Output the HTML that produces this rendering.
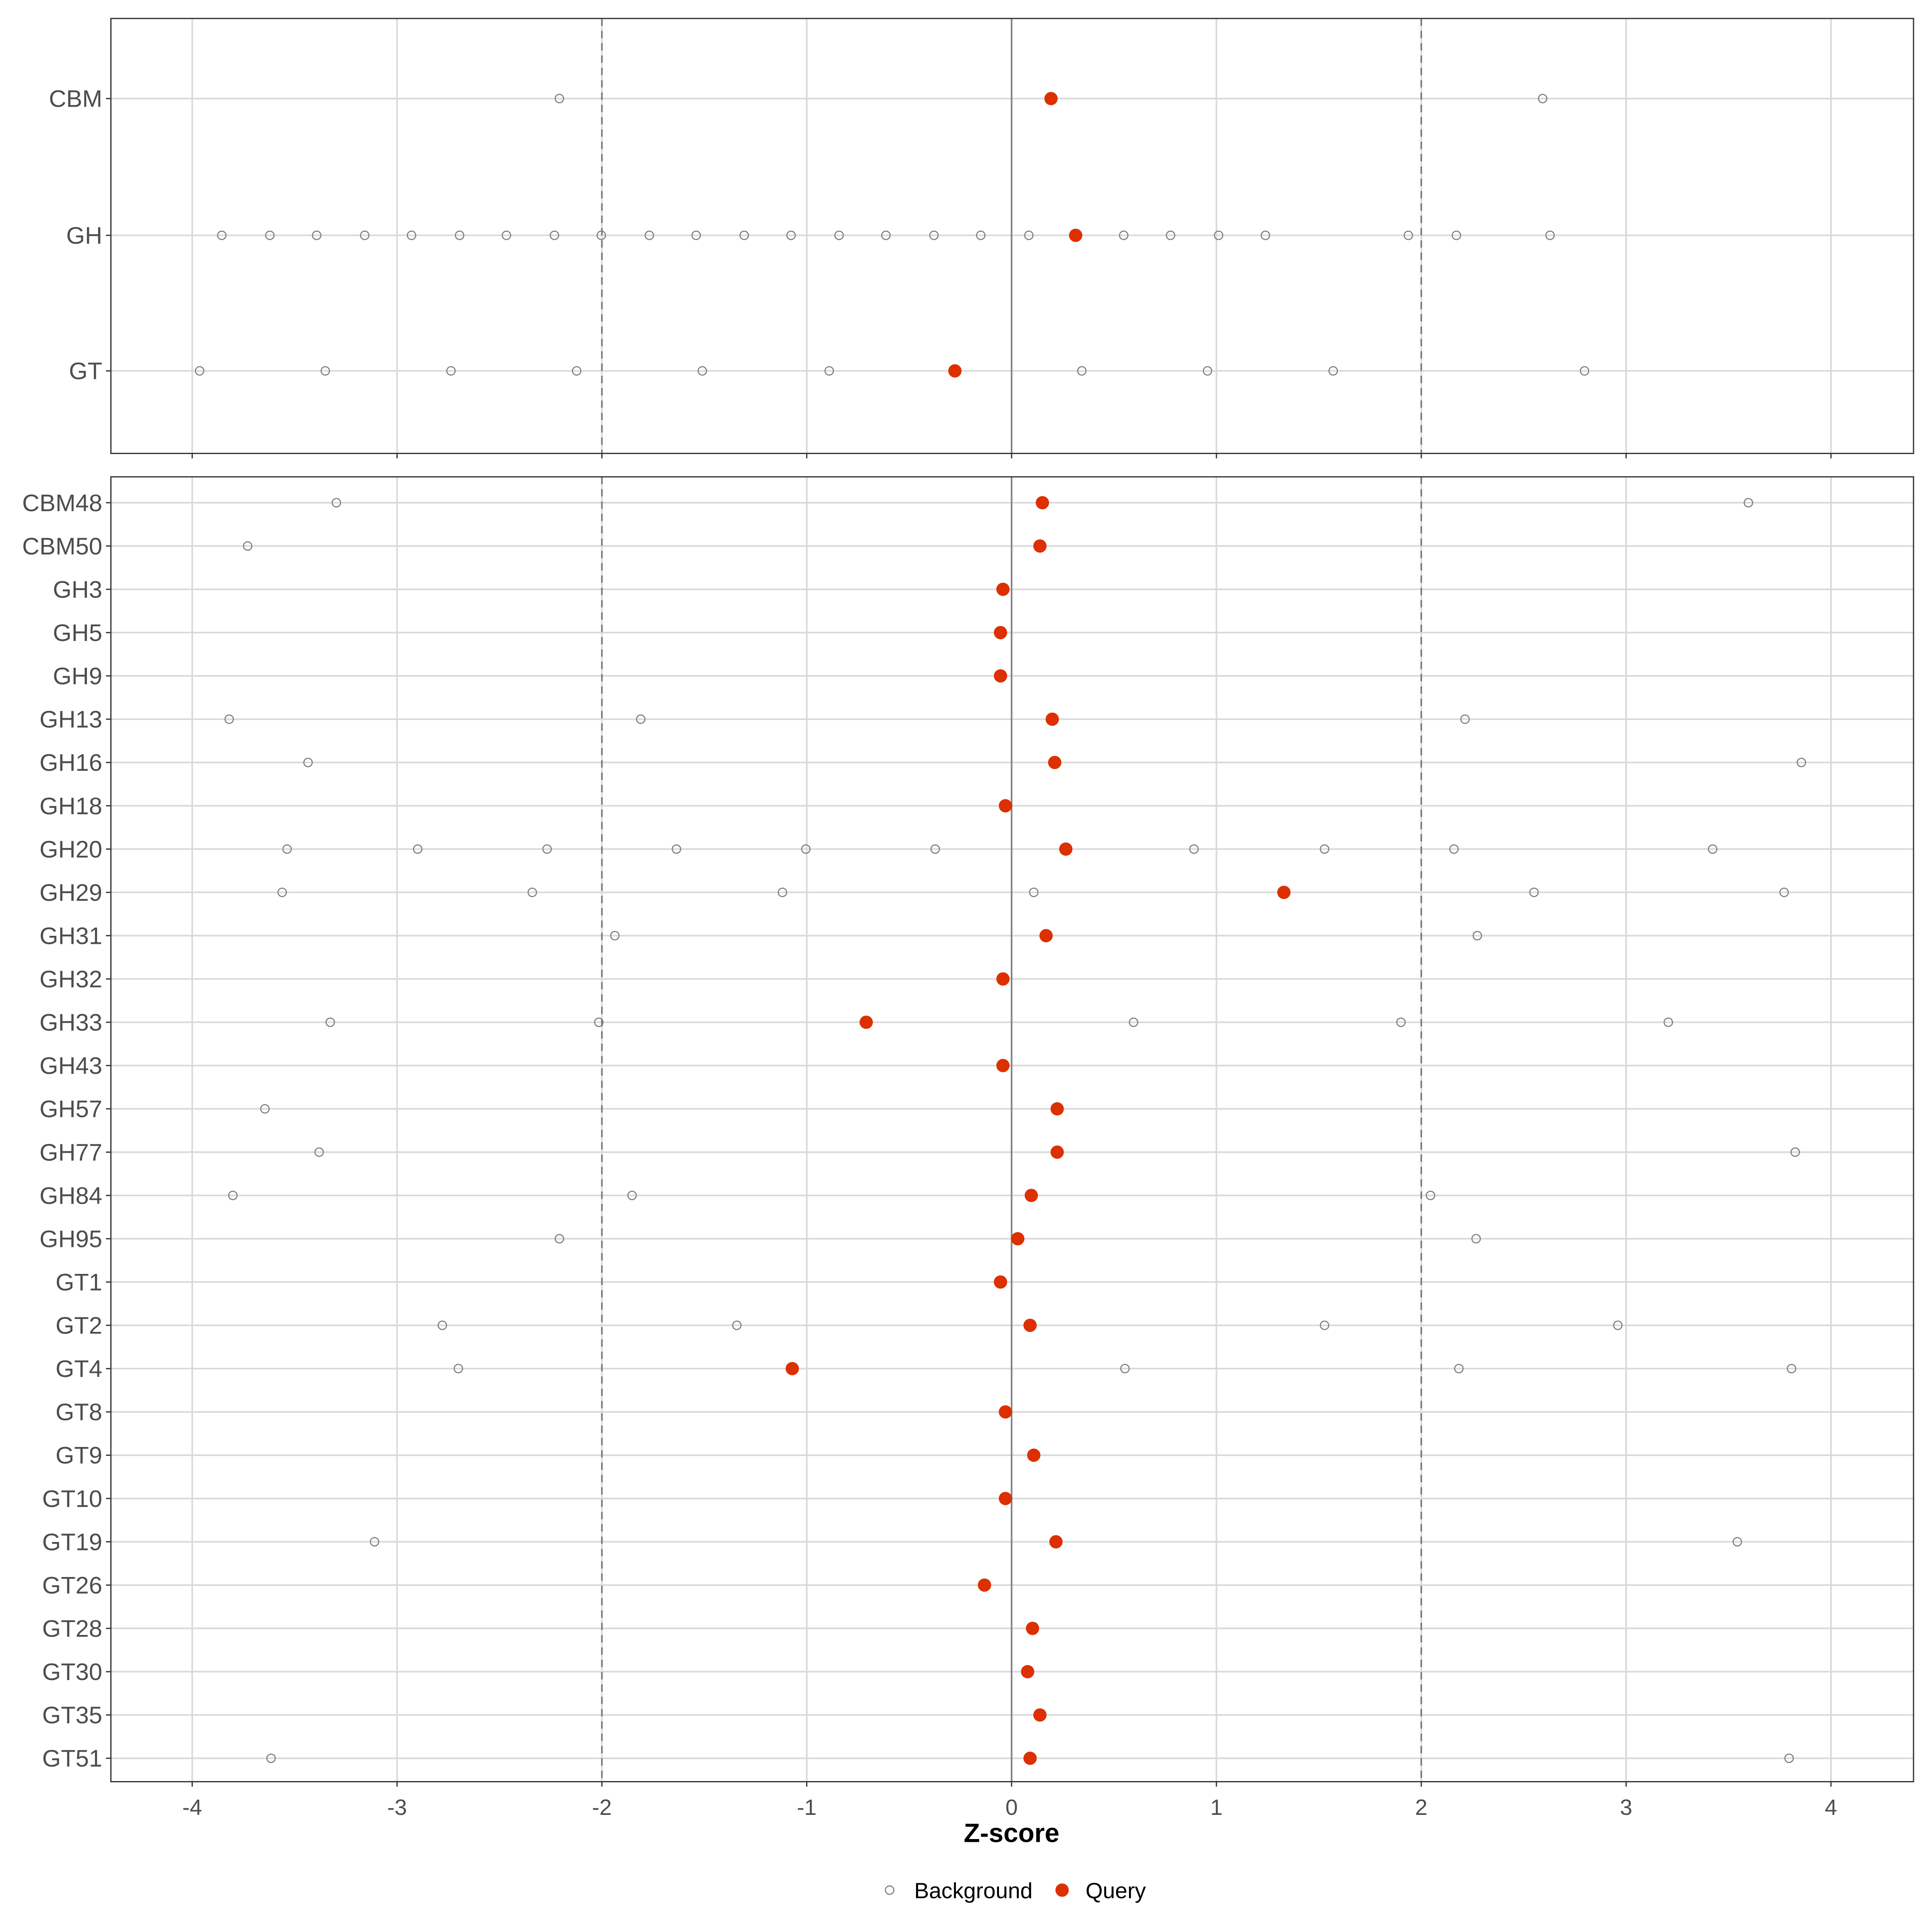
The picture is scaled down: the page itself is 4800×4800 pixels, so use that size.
<!DOCTYPE html>
<html><head><meta charset="utf-8"><style>html,body{margin:0;padding:0;background:#fff}svg{display:block}</style></head>
<body>
<svg id="s" xmlns="http://www.w3.org/2000/svg" width="4800" height="4800" viewBox="0 0 1568 1568" font-family="Liberation Sans, sans-serif"></svg>
<script>
const s=document.getElementById('s');let h='';
const X=v=>821+166.25*v;
const L=90,R=1553;
function panel(top,bot,rows){
  h+=`<rect x="${L}" y="${top}" width="${R-L}" height="${bot-top}" fill="#fff"/>`;
  for(let v=-4;v<=4;v++){h+=`<line x1="${X(v)}" x2="${X(v)}" y1="${top}" y2="${bot}" stroke="#d9d9d9" stroke-width="1.3"/>`;}
  rows.forEach(r=>{h+=`<line x1="${L}" x2="${R}" y1="${r[1]}" y2="${r[1]}" stroke="#d9d9d9" stroke-width="1.3"/>`;});
  h+=`<line x1="${X(0)}" x2="${X(0)}" y1="${top}" y2="${bot}" stroke="#808080" stroke-width="1.3"/>`;
  [-2,2].forEach(v=>{h+=`<line x1="${X(v)}" x2="${X(v)}" y1="${top}" y2="${bot}" stroke="#7a7a7a" stroke-width="1.3" stroke-dasharray="6,4"/>`;});
  rows.forEach(r=>{
    const [name,y,bg,q]=r;
    bg.forEach(x=>{h+=`<circle cx="${x}" cy="${y}" r="3.4" fill="none" stroke="#7f7f7f" stroke-width="0.9"/>`;});
    h+=`<circle cx="${q}" cy="${y}" r="5.4" fill="#dd3000"/>`;
    h+=`<line x1="86" x2="${L}" y1="${y}" y2="${y}" stroke="#333" stroke-width="1"/>`;
    h+=`<text x="83" y="${y+6.8}" text-anchor="end" font-size="19.5" fill="#4d4d4d">${name}</text>`;
  });
  h+=`<rect x="${L}" y="${top}" width="${R-L}" height="${bot-top}" fill="none" stroke="#333" stroke-width="1"/>`;
  for(let v=-4;v<=4;v++){h+=`<line x1="${X(v)}" x2="${X(v)}" y1="${bot}" y2="${bot+4}" stroke="#333" stroke-width="1"/>`;}
}
panel(15,368,[
 ["CBM",80,[454,1252],853],
 ["GH",191,[180,219,257,296,334,373,411,450,488,527,565,604,642,681,719,758,796,835,912,950,989,1027,1143,1182,1258],873],
 ["GT",301,[162,264,366,468,570,673,878,980,1082,1286],775]
]);
const B=[
["CBM48",[273,1419],846],["CBM50",[201],844],["GH3",[],814],["GH5",[],812],["GH9",[],812],
["GH13",[186,520,1189],854],["GH16",[250,1462],856],["GH18",[],816],
["GH20",[233,339,444,549,654,759,969,1075,1180,1390],865],
["GH29",[229,432,635,839,1245,1448],1042],["GH31",[499,1199],849],["GH32",[],814],
["GH33",[268,486,920,1137,1354],703],["GH43",[],814],["GH57",[215],858],["GH77",[259,1457],858],
["GH84",[189,513,1161],837],["GH95",[454,1198],826],["GT1",[],812],["GT2",[359,598,1075,1313],836],
["GT4",[372,913,1184,1454],643],["GT8",[],816],["GT9",[],839],["GT10",[],816],["GT19",[304,1410],857],
["GT26",[],799],["GT28",[],838],["GT30",[],834],["GT35",[],844],["GT51",[220,1452],836]];
panel(387,1446,B.map((r,i)=>[r[0],408+i*(1019/29),r[1],r[2]]));
for(let v=-4;v<=4;v++){h+=`<text x="${X(v)}" y="1473" text-anchor="middle" font-size="18" fill="#4d4d4d">${v}</text>`;}
h+=`<text x="821" y="1495" text-anchor="middle" font-size="21.5" font-weight="bold" fill="#000">Z-score</text>`;
h+=`<circle cx="722" cy="1534" r="3.4" fill="none" stroke="#7f7f7f" stroke-width="0.9"/><text x="742" y="1540.5" font-size="18" fill="#000">Background</text>`;
h+=`<circle cx="862" cy="1534" r="5.4" fill="#dd3000"/><text x="881" y="1540.5" font-size="18" fill="#000">Query</text>`;
s.innerHTML=h;
</script>
</body></html>
